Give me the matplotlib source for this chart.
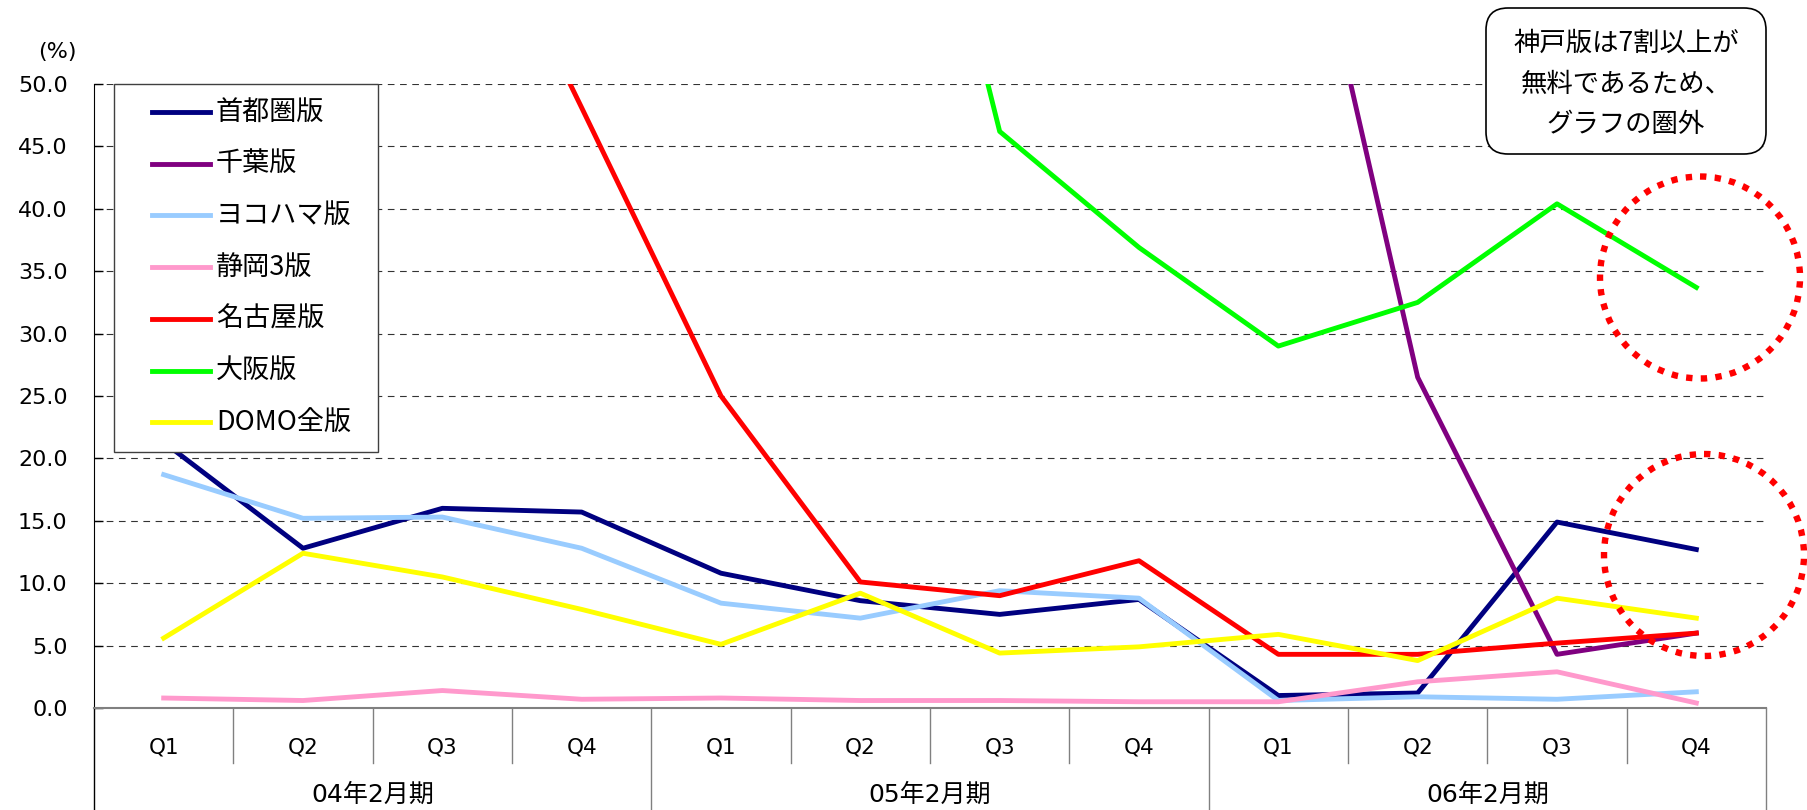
import numpy as np
import matplotlib
matplotlib.use('Agg')
import matplotlib.pyplot as plt
from matplotlib.lines import Line2D
from matplotlib.patches import Ellipse, FancyBboxPatch, Rectangle
from matplotlib.transforms import Affine2D

plt.rcParams['font.family'] = ['Noto Sans CJK JP', 'DejaVu Sans']

nan = np.nan

quarters = ['Q1', 'Q2', 'Q3', 'Q4'] * 3
years = ['04年2月期', '05年2月期', '06年2月期']

names = ['首都圏版', '千葉版', 'ヨコハマ版', '静岡3版', '名古屋版', '大阪版', 'DOMO全版']
colors = ['#000080', '#800080', '#99CCFF', '#FF99CC', '#FF0000', '#00FF00', '#FFFF00']

shutoken = [21.3, 12.8, 16.0, 15.7, 10.8, 8.6, 7.5, 8.7, 1.0, 1.2, 14.9, 12.7]
chiba = [nan, nan, nan, nan, nan, nan, nan, nan, 75.4, 26.5, 4.3, 6.0]
yokohama = [18.7, 15.2, 15.3, 12.8, 8.4, 7.2, 9.4, 8.8, 0.6, 0.9, 0.7, 1.3]
shizuoka = [0.8, 0.6, 1.4, 0.7, 0.8, 0.6, 0.6, 0.5, 0.5, 2.1, 2.9, 0.4]
nagoya = [nan, nan, 71.0, 48.1, 25.0, 10.1, 9.0, 11.8, 4.3, 4.3, 5.2, 6.0]
osaka = [nan, nan, nan, nan, nan, 91.0, 46.2, 36.9, 29.0, 32.5, 40.4, 33.7]
domo = [5.6, 12.4, 10.5, 7.9, 5.1, 9.2, 4.4, 4.9, 5.9, 3.8, 8.8, 7.2]

series = [shutoken, chiba, yokohama, shizuoka, nagoya, osaka, domo]

W, H = 1807, 810
fig = plt.figure(figsize=(W / 100, H / 100), dpi=100)
# pixel coords measured from the top-left of the picture
px = Affine2D().scale(1 / W, -1 / H).translate(0, 1) + fig.transFigure

ax = fig.add_axes([94 / W, (H - 708) / H, (1766 - 94) / W, 624 / H])
x = np.arange(len(quarters))
for vals, color, name in zip(series, colors, names):
    ax.plot(x, vals, color=color, lw=3.5, label=name, zorder=3)

ax.set_xlim(-0.5, 11.5)
ax.set_ylim(0, 50)
yt = np.arange(0, 50.1, 5)
ax.set_yticks(yt)
ax.set_yticklabels([f'{v:.1f}' for v in yt], family='DejaVu Sans')
ax.tick_params(axis='y', direction='in', length=6.5, width=1, color='black',
               pad=19, labelsize=16)
ax.set_xticks([])
for v in yt[1:]:
    ax.axhline(v, color='#333333', lw=0.8, ls=(0, (6, 5)), zorder=1)

ax.spines['top'].set_visible(False)
ax.spines['right'].set_visible(False)
ax.spines['left'].set_color('black')
ax.spines['bottom'].set_color('#808080')
ax.spines['bottom'].set_linewidth(1.5)

# two level category axis
tr = ax.get_xaxis_transform()
for i in range(len(quarters)):
    b = i + 0.5
    if (i + 1) % 4 == 0:
        ax.plot([b, b], [0, -0.17], transform=tr, clip_on=False, color='#808080', lw=1)
    else:
        ax.plot([b, b], [0, -0.088], transform=tr, clip_on=False, color='#808080', lw=1)
    ax.text(i, -0.0625, quarters[i], transform=tr, ha='center', va='center',
            fontsize=15.5, family='DejaVu Sans')
ax.plot([-0.5, -0.5], [0, -0.17], transform=tr, clip_on=False, color='black', lw=1)
for k, yr in enumerate(years):
    ax.text(1.5 + 4 * k, -0.139, yr, transform=tr, ha='center', va='center',
            fontsize=18, family=['DejaVu Sans', 'Noto Sans CJK JP'])

fig.text(57, 52, '(%)', transform=px, ha='center', va='center', fontsize=16,
         family='DejaVu Sans')

# legend box drawn over the lines, excel style
fig.add_artist(Rectangle((114, 84), 264, 368, transform=px, fc='white',
                         ec='#404040', lw=1, zorder=5))
for i, (name, color) in enumerate(zip(names, colors)):
    yy = 112 + 51.7 * i
    fig.add_artist(Line2D([152, 210], [yy, yy], transform=px, color=color, lw=3.5,
                          zorder=6))
    fig.text(216, yy, name, transform=px, ha='left', va='center', fontsize=19.5,
             zorder=6)

# note box
fig.add_artist(FancyBboxPatch((1486, 8), 280, 146, transform=px,
                              boxstyle='round,pad=0,rounding_size=22',
                              fc='white', ec='black', lw=1.2, zorder=5))
fig.text(1626, 84, '神戸版は7割以上が\n無料であるため、\nグラフの圏外', transform=px,
         ha='center', va='center', fontsize=19, linespacing=1.65, zorder=6)

# dotted red circles
for cx, cy in [(1700, 277.5), (1704, 555)]:
    fig.add_artist(Ellipse((cx, cy), 200, 202, transform=px, fill=False,
                           ec='#FF0000', lw=4.6, ls=(0, (1, 1.3)),
                           capstyle='butt', zorder=7))

fig.savefig('out.png', dpi=100)
